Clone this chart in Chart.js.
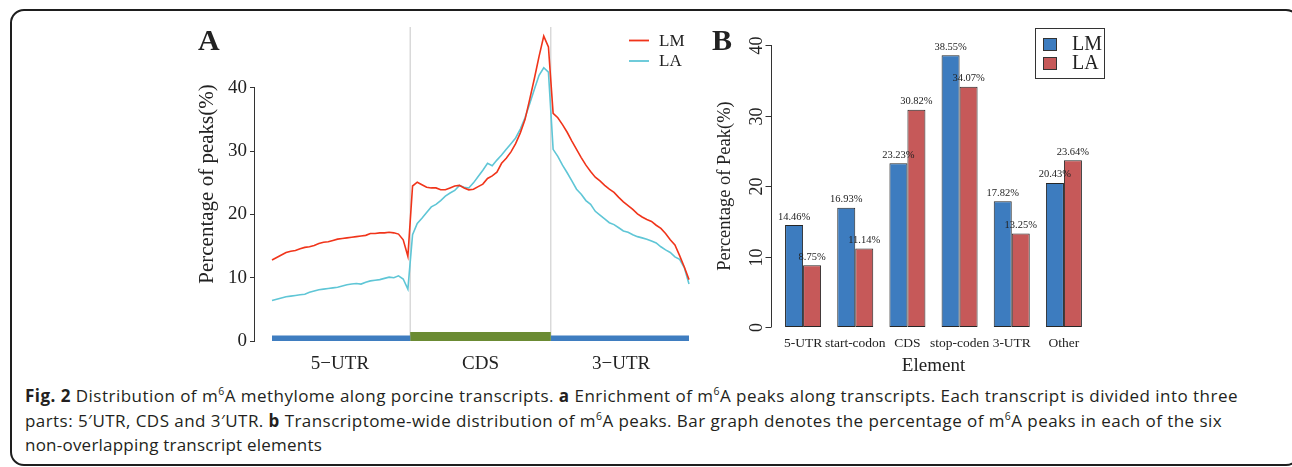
<!DOCTYPE html>
<html>
<head>
<meta charset="utf-8">
<script src="https://cdn.jsdelivr.net/npm/chart.js@4.4.0/dist/chart.umd.min.js"></script>
<style>
  body { margin: 0; width: 1292px; height: 467px; overflow: hidden; background: #fff; position: relative; }
  #frame { position: absolute; left: 10px; top: 9px; width: 1290px; height: 457px; border: 2px solid #1e1e1e; border-radius: 14px; box-sizing: border-box; }
  #chartA { position: absolute; left: 180px; top: 0; }
  #chartB { position: absolute; left: 700px; top: 0; }
  .cap { position: absolute; left: 25px; font-family: "Open Sans", sans-serif; font-size: 17px; line-height: 20px; white-space: nowrap; color: #231f20; }
  .cap sup { font-size: 10.5px; line-height: 0; vertical-align: 7px; }
</style>
</head>
<body>
<div id="frame"></div>
<canvas id="chartA" width="530" height="380"></canvas>
<canvas id="chartB" width="420" height="380"></canvas>
<div class="cap" style="top:386px" data-w="1213"><b>Fig. 2</b> Distribution of m<sup>6</sup>A methylome along porcine transcripts. <b>a</b> Enrichment of m<sup>6</sup>A peaks along transcripts. Each transcript is divided into three</div>
<div class="cap" style="top:411px" data-w="1197">parts: 5′UTR, CDS and 3′UTR. <b>b</b> Transcriptome-wide distribution of m<sup>6</sup>A peaks. Bar graph denotes the percentage of m<sup>6</sup>A peaks in each of the six</div>
<div class="cap" style="top:435px" data-w="297">non-overlapping transcript elements</div>
<script>
// ---- panel A: metagene profile, 30 bins per region ----
const regions = ['5\u2212UTR', 'CDS', '3\u2212UTR'];
const binsPerRegion = 30;
const LM = [
  12.8, 13.2, 13.6, 14.0, 14.2, 14.3, 14.6, 14.8, 14.9, 15.1, 15.4, 15.6, 15.7, 15.9, 16.1, 16.2, 16.3, 16.4, 16.5, 16.6, 16.7, 17.0, 17.0, 17.1, 17.1, 17.2, 17.1, 16.9, 16.0, 13.4,
  24.5, 25.1, 24.7, 24.3, 24.2, 24.2, 23.9, 23.9, 24.2, 24.5, 24.6, 24.2, 23.9, 24.0, 24.4, 24.8, 25.7, 26.1, 26.7, 28.1, 28.9, 29.9, 31.2, 32.9, 35.0, 38.2, 41.5, 45.0, 48.2, 46.5,
  36.0, 35.3, 34.2, 33.0, 31.6, 30.3, 29.0, 27.8, 26.8, 25.9, 25.3, 24.6, 24.0, 23.5, 22.7, 22.0, 21.4, 20.8, 20.1, 19.6, 19.2, 18.9, 18.3, 17.8, 17.0, 16.0, 15.2, 13.5, 11.7, 9.7
];
const LA = [
  6.4, 6.6, 6.8, 7.0, 7.1, 7.2, 7.3, 7.4, 7.7, 7.9, 8.1, 8.2, 8.3, 8.4, 8.5, 8.7, 8.9, 9.0, 9.1, 9.0, 9.3, 9.5, 9.6, 9.7, 9.9, 10.1, 10.0, 10.3, 9.8, 8.2,
  16.8, 18.6, 19.4, 20.3, 21.2, 21.6, 22.2, 22.9, 23.4, 23.8, 24.6, 24.3, 24.2, 25.0, 26.0, 27.0, 28.1, 27.7, 28.6, 29.4, 30.3, 31.2, 32.1, 33.5, 35.3, 37.5, 39.8, 42.0, 43.2, 42.5,
  30.3, 29.2, 27.8, 26.6, 25.3, 24.0, 23.2, 22.2, 21.6, 20.5, 19.9, 19.3, 18.7, 18.4, 17.9, 17.4, 17.2, 16.8, 16.5, 16.3, 16.1, 15.8, 15.5, 14.9, 14.4, 14.0, 13.3, 12.9, 11.6, 9.0
];
const yTicksA = [0, 10, 20, 30, 40];

// ---- panel B: peak share per element ----
const elements = ['5-UTR', 'start-codon', 'CDS', 'stop-coden', '3-UTR', 'Other'];
const LMpct = [14.46, 16.93, 23.23, 38.55, 17.82, 20.43];
const LApct = [8.75, 11.14, 30.82, 34.07, 13.25, 23.64];
const yTicksB = [0, 10, 20, 30, 40];

Chart.defaults.font.family = '"Liberation Serif", "Times New Roman", serif';
Chart.defaults.color = '#222';

const lastIdx = LM.length - 1;
// region edges in bin units (boundaries sit between bins)
const edges = [0, binsPerRegion - 0.5, 2 * binsPerRegion - 0.5, lastIdx];
const regionCenters = regions.map((r, i) => i * binsPerRegion + (binsPerRegion - 1) / 2);
const toPts = arr => arr.map((v, i) => ({ x: i, y: v }));
const segment = (a, b, h) => [{ x: edges[a], y: h }, { x: edges[b], y: h }];

const panelA = {
  id: 'panelA',
  beforeDatasetsDraw(chart) {
    const { ctx, chartArea, scales: { x, y } } = chart;
    ctx.save();
    ctx.strokeStyle = '#d4d4d4';
    ctx.lineWidth = 1.3;
    [edges[1], edges[2]].forEach(v => {
      const px = x.getPixelForValue(v);
      ctx.beginPath();
      ctx.moveTo(px, chartArea.top);
      ctx.lineTo(px, y.getPixelForValue(0));
      ctx.stroke();
    });
    ctx.restore();
  },
  afterDraw(chart) {
    const { ctx, chartArea, scales: { y } } = chart;
    ctx.save();
    // R-style axis line, only over the tick range
    ctx.strokeStyle = '#333';
    ctx.lineWidth = 1;
    const ax = Math.round(chartArea.left) - 0.5;
    ctx.beginPath();
    ctx.moveTo(ax, y.getPixelForValue(yTicksA[0]));
    ctx.lineTo(ax, y.getPixelForValue(yTicksA[yTicksA.length - 1]));
    ctx.stroke();
    // legend
    ctx.font = '17px "Liberation Serif"';
    ctx.textBaseline = 'middle';
    ctx.fillStyle = '#222';
    chart.data.datasets.slice(0, 2).forEach((ds, i) => {
      const ly = 40.5 + i * 20.5;
      ctx.strokeStyle = ds.borderColor;
      ctx.lineWidth = 1.8;
      ctx.beginPath();
      ctx.moveTo(449, ly);
      ctx.lineTo(469, ly);
      ctx.stroke();
      ctx.fillText(ds.label, 479, ly + 1);
    });
    // panel letter
    ctx.font = 'bold 30px "Liberation Serif"';
    ctx.textBaseline = 'alphabetic';
    ctx.fillText('A', 18, 50);
    ctx.restore();
  }
};

new Chart(document.getElementById('chartA'), {
  type: 'line',
  data: {
    datasets: [
      { label: 'LM', data: toPts(LM), borderColor: '#f0341a', borderWidth: 1.6, pointRadius: 0, tension: 0 },
      { label: 'LA', data: toPts(LA), borderColor: '#5fc6d6', borderWidth: 1.6, pointRadius: 0, tension: 0 },
      { label: 'r1', data: segment(0, 1, 0.4), borderColor: '#3f7dc0', borderWidth: 6, pointRadius: 0, borderCapStyle: 'butt' },
      { label: 'r2', data: segment(1, 2, 0.7), borderColor: '#6b8b33', borderWidth: 9, pointRadius: 0, borderCapStyle: 'butt' },
      { label: 'r3', data: segment(2, 3, 0.4), borderColor: '#3f7dc0', borderWidth: 6, pointRadius: 0, borderCapStyle: 'butt' }
    ]
  },
  options: {
    responsive: false,
    animation: false,
    devicePixelRatio: 1,
    layout: { padding: { top: 27, right: 4, left: 0, bottom: 0 } },
    plugins: { legend: { display: false }, tooltip: { enabled: false } },
    scales: {
      x: {
        type: 'linear',
        min: -3.63,
        max: lastIdx + 3.63,
        afterBuildTicks: s => { s.ticks = regionCenters.map(v => ({ value: v })); },
        ticks: { callback: (v, i) => regions[i], font: { size: 19 }, color: '#222', padding: 12, maxRotation: 0, autoSkip: false },
        grid: { display: false, drawTicks: false },
        border: { display: false },
        afterFit: s => { s.height = 39; }
      },
      y: {
        min: 0,
        max: 49.64,
        afterBuildTicks: s => { s.ticks = yTicksA.map(v => ({ value: v })); },
        ticks: { font: { size: 19 }, color: '#222', padding: 3 },
        grid: { drawOnChartArea: false, tickLength: 5, color: '#333' },
        border: { display: false },
        title: { display: true, text: 'Percentage of peaks(%)', font: { size: 21 }, color: '#222', padding: { top: 15, bottom: 0 } },
        afterFit: s => { s.width = 75; }
      }
    }
  },
  plugins: [panelA]
});

const panelB = {
  id: 'panelB',
  afterDatasetsDraw(chart) {
    const { ctx } = chart;
    ctx.save();
    ctx.font = '10.5px "Liberation Serif"';
    ctx.fillStyle = '#222';
    ctx.textAlign = 'center';
    ctx.textBaseline = 'bottom';
    chart.data.datasets.forEach((ds, di) => {
      chart.getDatasetMeta(di).data.forEach((bar, i) => {
        ctx.fillText(ds.data[i].toFixed(2) + '%', bar.x, bar.y - 3);
      });
    });
    ctx.restore();
  },
  afterDraw(chart) {
    const { ctx, chartArea, scales: { y } } = chart;
    ctx.save();
    const ax = Math.round(chartArea.left) - 5.5;
    ctx.strokeStyle = '#333';
    ctx.lineWidth = 1;
    ctx.beginPath();
    ctx.moveTo(ax, y.getPixelForValue(yTicksB[0]));
    ctx.lineTo(ax, y.getPixelForValue(yTicksB[yTicksB.length - 1]));
    ctx.stroke();
    ctx.font = '18px "Liberation Serif"';
    ctx.fillStyle = '#222';
    ctx.textAlign = 'center';
    ctx.textBaseline = 'middle';
    yTicksB.forEach(v => {
      const py = Math.round(y.getPixelForValue(v)) + 0.5;
      ctx.beginPath();
      ctx.moveTo(ax, py);
      ctx.lineTo(ax - 6, py);
      ctx.stroke();
      ctx.save();
      ctx.translate(ax - 14, py);
      ctx.rotate(-Math.PI / 2);
      ctx.fillText(String(v), 0, 0);
      ctx.restore();
    });
    // legend box
    ctx.lineWidth = 1;
    ctx.strokeStyle = '#333';
    ctx.strokeRect(335.5, 28.5, 69, 50);
    ctx.font = '20px "Liberation Serif"';
    ctx.textAlign = 'left';
    chart.data.datasets.forEach((ds, i) => {
      const top = 38 + i * 19;
      ctx.fillStyle = ds.backgroundColor;
      ctx.fillRect(343, top, 13, 12);
      ctx.strokeRect(343.5, top + 0.5, 13, 12);
      ctx.fillStyle = '#222';
      ctx.fillText(ds.label, 372, top + 6.5);
    });
    ctx.font = 'bold 30px "Liberation Serif"';
    ctx.textBaseline = 'alphabetic';
    ctx.fillText('B', 12, 50);
    ctx.restore();
  }
};

new Chart(document.getElementById('chartB'), {
  type: 'bar',
  data: {
    labels: elements,
    datasets: [
      { label: 'LM', data: LMpct, backgroundColor: '#3d7cbf', borderColor: '#262626', borderWidth: 1, borderSkipped: false },
      { label: 'LA', data: LApct, backgroundColor: '#c65959', borderColor: '#262626', borderWidth: 1, borderSkipped: false }
    ]
  },
  options: {
    responsive: false,
    animation: false,
    devicePixelRatio: 1,
    categoryPercentage: 0.69,
    barPercentage: 1,
    layout: { padding: { top: 45, right: 30, left: 0, bottom: 0 } },
    plugins: { legend: { display: false }, tooltip: { enabled: false } },
    scales: {
      x: {
        ticks: { font: { size: 13.5 }, color: '#222', padding: 8, maxRotation: 0, autoSkip: false },
        grid: { display: false, drawTicks: false },
        border: { display: false },
        title: { display: true, text: 'Element', font: { size: 19 }, color: '#222', padding: { top: 0, bottom: 3 } },
        afterFit: s => { s.height = 53; }
      },
      y: {
        min: 0,
        max: 40,
        ticks: { display: false },
        grid: { display: false, drawTicks: false },
        border: { display: false },
        title: { display: true, text: 'Percentage of Peak(%)', font: { size: 18.5 }, color: '#222', padding: { top: 14, bottom: 0 } },
        afterFit: s => { s.width = 77; }
      }
    }
  },
  plugins: [panelB]
});

// nudge caption lines to the measured widths of the original
document.querySelectorAll('.cap').forEach(el => {
  const target = +el.dataset.w;
  const w = el.getBoundingClientRect().width;
  const n = el.textContent.length;
  el.style.letterSpacing = ((target - w) / n).toFixed(3) + 'px';
});
</script>
</body>
</html>
